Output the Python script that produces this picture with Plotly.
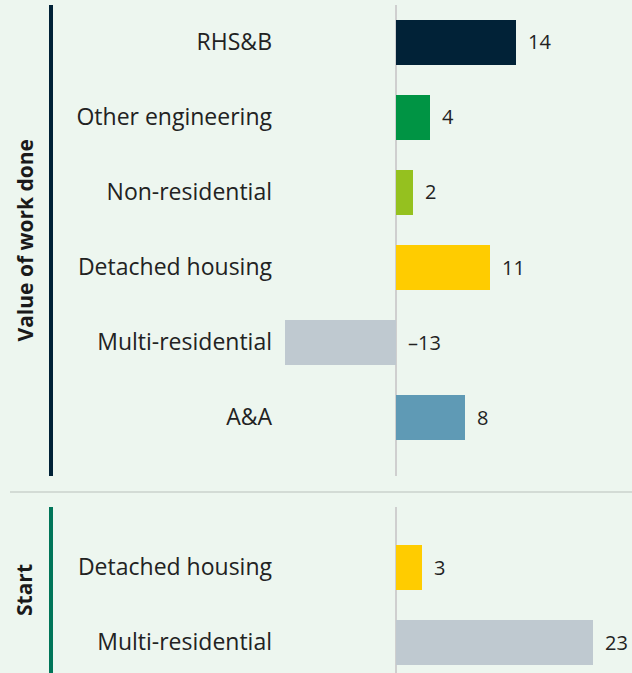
import plotly.graph_objects as go

# ---- data ----
vwd_categories = ["RHS&B", "Other engineering", "Non-residential", "Detached housing", "Multi-residential", "A&A"]
vwd_values = [14, 4, 2, 11, -13, 8]
vwd_colors = ["#012237", "#009444", "#95C11F", "#FFCC00", "#BFC9D0", "#5F9AB5"]

start_categories = ["Detached housing", "Multi-residential"]
start_values = [3, 23]
start_colors = ["#FFCC00", "#BFC9D0"]

panel_titles = ["Value of work done", "Start"]

# ---- layout constants ----
W, H = 632, 673
BG = "#EDF6EF"
LABEL_FONT = dict(family="Open Sans, sans-serif", size=23, color="#222222")
VALUE_FONT = dict(family="Open Sans, sans-serif", size=20, color="#222222")
TITLE_FONT = dict(family="Open Sans, sans-serif", size=21, color="#1a1a1a")

def py(px):
    return 1 - px / H

fig = go.Figure()

fig.add_trace(go.Bar(
    x=vwd_values, y=vwd_categories, orientation="h",
    marker=dict(color=vwd_colors, line=dict(width=0)),
    width=0.6, xaxis="x", yaxis="y", hoverinfo="x+y",
))
fig.add_trace(go.Bar(
    x=start_values, y=start_categories, orientation="h",
    marker=dict(color=start_colors, line=dict(width=0)),
    width=0.6, xaxis="x2", yaxis="y2", hoverinfo="x+y",
))

annotations = []
for cat, v in zip(vwd_categories, vwd_values):
    annotations.append(dict(x=max(v, 0), y=cat, xref="x", yref="y", text=str(v).replace("-", "–"),
                            showarrow=False, xanchor="left", xshift=10, font=VALUE_FONT))
for cat, v in zip(start_categories, start_values):
    annotations.append(dict(x=max(v, 0), y=cat, xref="x2", yref="y2", text=str(v),
                            showarrow=False, xanchor="left", xshift=10, font=VALUE_FONT))

annotations.append(dict(x=24 / W, y=0.5, xref="paper", yref="y domain", text="<b>" + panel_titles[0] + "</b>",
                        textangle=-90, showarrow=False, xanchor="center", yanchor="middle", font=TITLE_FONT))
annotations.append(dict(x=24 / W, y=0.5, xref="paper", yref="y2 domain", text="<b>" + panel_titles[1] + "</b>",
                        textangle=-90, showarrow=False, xanchor="center", yanchor="middle", font=TITLE_FONT))

shapes = [
    dict(type="line", xref="paper", yref="y domain", x0=51 / W, x1=51 / W, y0=0, y1=1,
         line=dict(color="#012237", width=4)),
    dict(type="line", xref="paper", yref="y2 domain", x0=51 / W, x1=51 / W, y0=0, y1=1,
         line=dict(color="#007559", width=4)),
    dict(type="line", xref="paper", yref="paper", x0=10 / W, x1=1, y0=py(492), y1=py(492),
         line=dict(color="#D3DBD5", width=2)),
]

x_dom = [285 / W, 1]
x_range = [-12.95, (W - 396) / 8.57]
axis_common = dict(showgrid=False, zeroline=True, zerolinecolor="#CFCFCF", zerolinewidth=2,
                   showticklabels=False, ticks="", fixedrange=True)

fig.update_layout(
    width=W, height=H,
    margin=dict(l=0, r=0, t=0, b=0),
    paper_bgcolor=BG, plot_bgcolor=BG,
    showlegend=False, bargap=0,
    xaxis=dict(domain=x_dom, range=x_range, anchor="y", **axis_common),
    xaxis2=dict(domain=x_dom, range=x_range, anchor="y2", **axis_common),
    yaxis=dict(domain=[py(476), py(5)], type="category", categoryorder="array", categoryarray=vwd_categories,
               range=[5 + (476 - 417) / 75, -(42 - 5) / 75], showgrid=False, zeroline=False,
               ticks="", ticklabelstandoff=12, tickfont=LABEL_FONT, anchor="x", showline=False,
               fixedrange=True),
    yaxis2=dict(domain=[0, py(507)], type="category", categoryorder="array", categoryarray=start_categories,
                range=[1 + (673 - 642) / 75, -(567 - 507) / 75], showgrid=False, zeroline=False,
                ticks="", ticklabelstandoff=12, tickfont=LABEL_FONT, anchor="x2", showline=False,
                fixedrange=True),
    annotations=annotations, shapes=shapes,
)

fig.write_html("out.html", config={"displayModeBar": False},
               post_script="document.body.style.margin='0';document.body.style.overflow='hidden';")
